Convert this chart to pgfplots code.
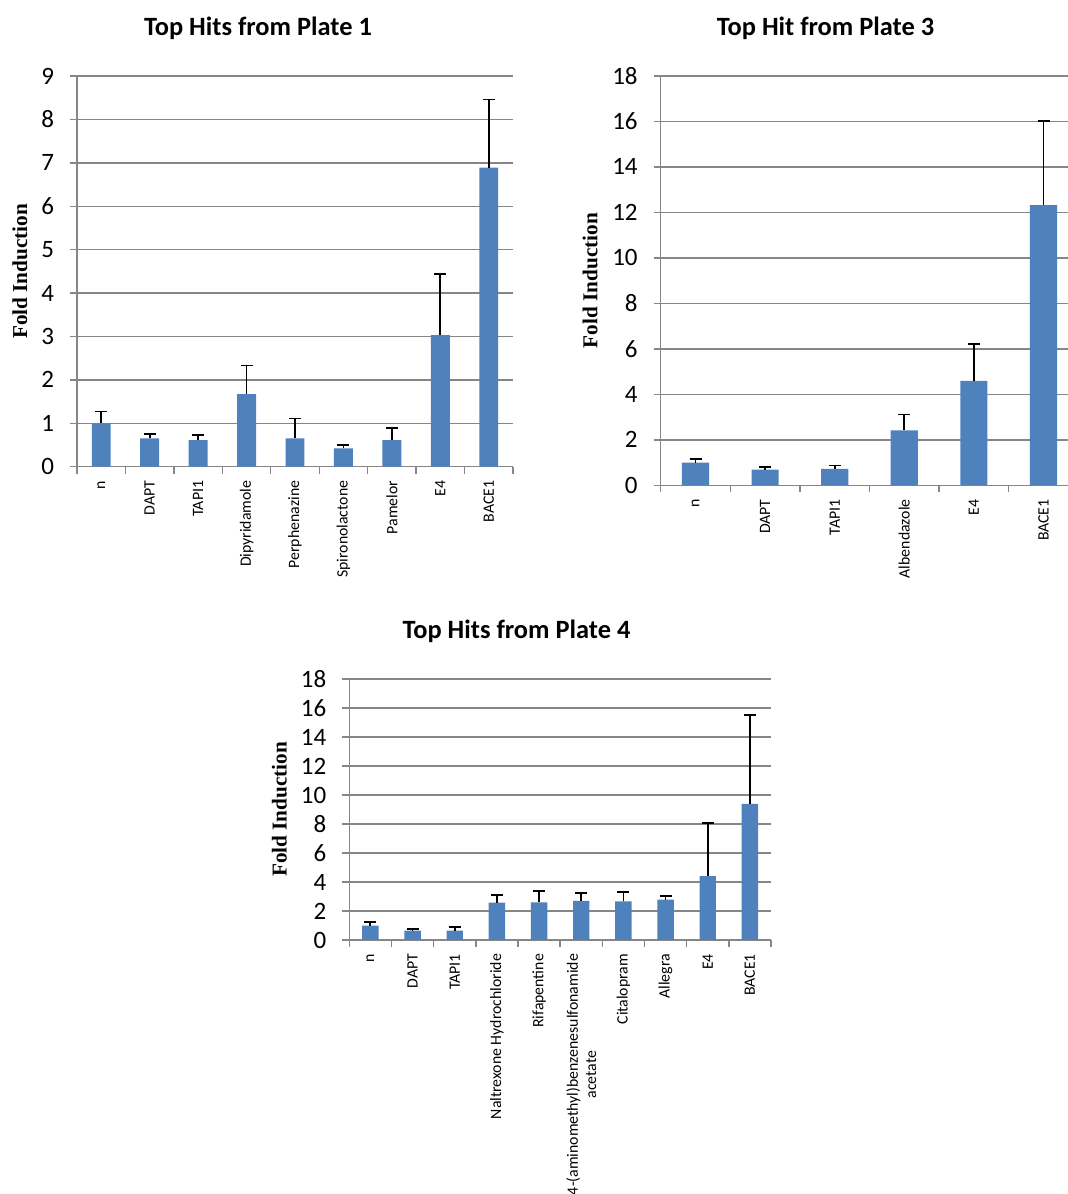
\documentclass[border=0pt]{standalone}
\usepackage{pgfplots}
\pgfplotsset{compat=1.18}
\usepackage{pgfplotstable}
\usepackage{fontspec}
\setmainfont{Carlito}
\newfontfamily\labelfont{Liberation Serif}

\definecolor{barblue}{HTML}{4F81BD}
\definecolor{gridgray}{HTML}{868686}

% value = mean fold induction, err = upper error
\pgfplotstableread{
x  y     e
1  1.00  0.27
2  0.65  0.10
3  0.61  0.12
4  1.67  0.66
5  0.65  0.46
6  0.42  0.08
7  0.61  0.29
8  3.03  1.40
9  6.89  1.57
}\plateone

\pgfplotstableread{
x  y      e
1  1.00   0.16
2  0.69   0.13
3  0.72   0.15
4  2.42   0.69
5  4.59   1.63
6  12.32  3.71
}\platethree

\pgfplotstableread{
x   y     e
1   0.99  0.27
2   0.64  0.14
3   0.64  0.23
4   2.57  0.53
5   2.60  0.76
6   2.69  0.53
7   2.67  0.62
8   2.78  0.28
9   4.41  3.64
10  9.38  6.16
}\platefour

\pgfplotsset{
  excelbar/.style={
    scale only axis,
    anchor=south west,
    ybar,
    bar width=0.39,
    axis lines*=left,
    axis line style={gridgray, line width=0.7pt},
    ymajorgrids,
    grid style={gridgray, line width=0.7pt},
    tick align=outside,
    major tick length=3.5pt,
    tick style={gridgray, line width=0.7pt},
    ymin=0,
    x tick label as interval,
    xticklabel style={rotate=90, anchor=east, align=center,
      font=\fontsize{7.9}{9.2}\selectfont},
    yticklabel style={font=\fontsize{12.5}{14}\selectfont, xshift=-4.5pt},
    /pgf/number format/assume math mode=true,
    ylabel={Fold Induction},
    ylabel style={font=\labelfont\bfseries\fontsize{10.6}{12}\selectfont, anchor=center},
  },
  foldbars/.style={
    fill=barblue, draw=none,
    error bars/.cd,
      y dir=plus, y explicit,
      error bar style={black, line width=0.9pt},
      error mark options={rotate=90, black, mark size=3pt, line width=0.9pt},
  },
}

\begin{document}
\begin{tikzpicture}
\path[use as bounding box] (0,0) rectangle (534pt,597pt);

% Plate 1
\begin{axis}[excelbar,
  at={(38.5pt,363.65pt)}, width=218pt, height=195.35pt,
  xmin=0.5, xmax=9.5, ymax=9, ytick={0,1,...,9},
  xtick={0.5,1.5,2.5,3.5,4.5,5.5,6.5,7.5,8.5,9.5},
  xticklabels={n,DAPT,TAPI1,Dipyridamole,Perphenazine,Spironolactone,Pamelor,E4,BACE1},
  ylabel style={at={(axis description cs:-0.1307,0.5)}},
]
\addplot[foldbars] table[x=x, y=y, y error=e] {\plateone};
\end{axis}
\node[font=\bfseries\fontsize{13.2}{15}\selectfont] at (129pt,583pt) {Top Hits from Plate 1};

% Plate 3
\begin{axis}[excelbar,
  at={(330.35pt,354.35pt)}, width=208.8pt, height=204.65pt,
  xmin=0.5, xmax=6.5, ymax=18, ytick={0,2,...,18},
  xtick={0.5,1.5,2.5,3.5,4.5,5.5,6.5},
  xticklabels={n,DAPT,TAPI1,Albendazole,E4,BACE1},
  ylabel style={at={(axis description cs:-0.169,0.5)}},
]
\addplot[foldbars] table[x=x, y=y, y error=e] {\platethree};
\end{axis}
\node[font=\bfseries\fontsize{13.2}{15}\selectfont] at (412.75pt,583pt) {Top Hit from Plate 3};

% Plate 4
\begin{axis}[excelbar,
  at={(174.65pt,127pt)}, width=210.85pt, height=130.5pt,
  xmin=0.5, xmax=10.5, ymax=18, ytick={0,2,...,18},
  xtick={0.5,1.5,2.5,3.5,4.5,5.5,6.5,7.5,8.5,9.5,10.5},
  xticklabels={n,DAPT,TAPI1,Naltrexone Hydrochloride,Rifapentine,
    {4-(aminomethyl)benzenesulfonamide\\acetate},Citalopram,Allegra,E4,BACE1},
  ylabel style={at={(axis description cs:-0.166,0.5)}},
]
\addplot[foldbars] table[x=x, y=y, y error=e] {\platefour};
\end{axis}
\node[font=\bfseries\fontsize{13.2}{15}\selectfont] at (258.25pt,281.5pt) {Top Hits from Plate 4};
\end{tikzpicture}
\end{document}
